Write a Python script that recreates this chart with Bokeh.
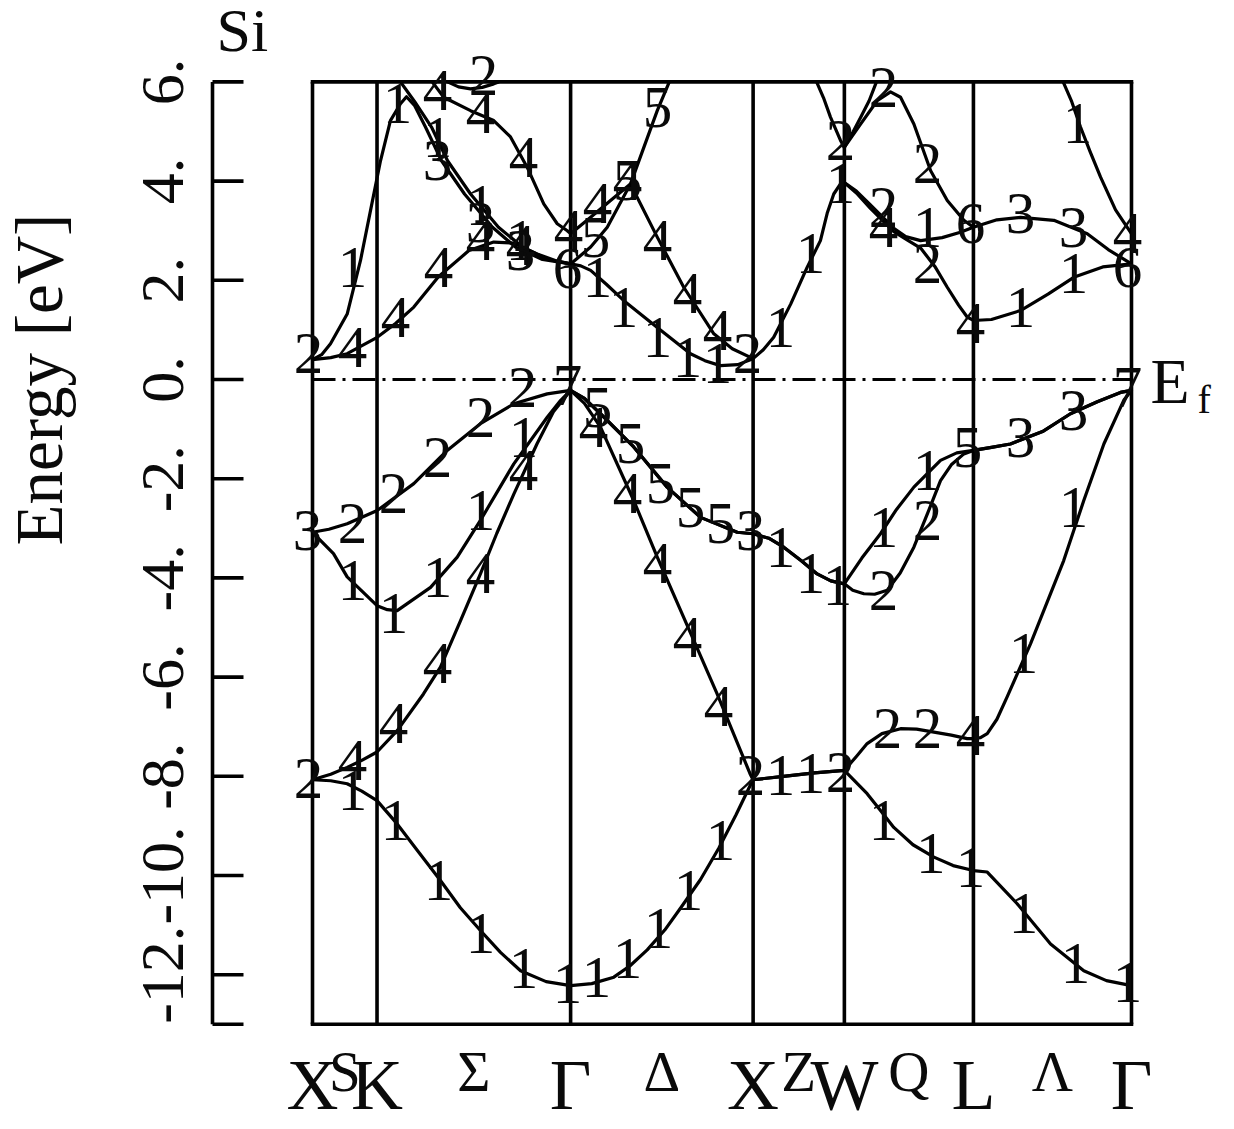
import math
from bokeh.plotting import figure
from bokeh.models import Range1d, ColumnDataSource
from bokeh.core.properties import value
from bokeh.embed import file_html
from bokeh.resources import INLINE

nan = float("nan")

# ---------------- data ----------------
k_points = [0.0, 0.35355, 1.41421, 2.41421, 2.91421, 3.62132, 4.48735]
k_point_labels = ["X", "K", "Γ", "X", "W", "L", "Γ"]
k_line_labels = ["S", "Σ", "Δ", "Z", "Q", "Λ"]
e_bottom, e_top = -13.0, 6.0
e_fermi = 0.0
y_ticks = [6, 4, 2, 0, -2, -4, -6, -8, -10, -12, -13]
y_tick_labels = ["6.", "4.", "2.", "0.", "-2.", "-4.", "-6.", "-8.", "-10.", "-12.", ""]

band1_k = [0.0, 0.10, 0.19, 0.27, 0.3535, 0.464, 0.58, 0.701, 0.81, 0.92, 1.03, 1.14, 1.28, 1.414,
           1.53, 1.651, 1.74, 1.834, 1.93, 2.016, 2.126, 2.226, 2.32, 2.40, 2.414,
           2.58, 2.75, 2.914, 3.039, 3.11, 3.185, 3.29, 3.405, 3.51, 3.621,
           3.697, 3.861, 4.044, 4.226, 4.35, 4.487]
band1_e = [-8.07, -8.09, -8.15, -8.30, -8.49, -8.96, -9.52, -10.10, -10.65, -11.11, -11.55, -11.92, -12.14, -12.22,
           -12.18, -12.05, -11.82, -11.50, -11.10, -10.66, -10.08, -9.45, -8.78, -8.17, -8.07,
           -8.00, -7.93, -7.88, -8.35, -8.68, -9.03, -9.38, -9.63, -9.80, -9.90,
           -9.93, -10.57, -11.38, -11.92, -12.12, -12.22]

band2_k = [0.0, 0.10, 0.19, 0.27, 0.3535, 0.464, 0.608, 0.701, 0.81, 0.92, 1.01, 1.103, 1.231, 1.32, 1.414,
           1.49, 1.578, 1.760, 1.889, 2.089, 2.217, 2.40, 2.414,
           2.58, 2.75, 2.914, 2.98, 3.039, 3.12, 3.222, 3.31, 3.405, 3.50, 3.587, 3.621,
           3.66, 3.697, 3.75, 3.806, 3.934, 4.116, 4.226, 4.336, 4.445, 4.487]
band2_e = [-8.07, -7.96, -7.82, -7.68, -7.51, -7.08, -6.34, -5.80, -4.87, -3.92, -3.10, -2.31, -1.29, -0.65, -0.22,
           -0.48, -0.96, -2.44, -3.58, -5.26, -6.34, -7.97, -8.07,
           -8.00, -7.93, -7.88, -7.60, -7.34, -7.14, -7.04, -7.05, -7.11, -7.17, -7.24, -7.24,
           -7.22, -7.14, -6.85, -6.40, -5.33, -3.65, -2.44, -1.30, -0.42, -0.22]

band3_k = [0.0, 0.115, 0.19, 0.3535, 0.41, 0.464, 0.647, 0.793, 0.92, 1.103, 1.286, 1.36, 1.414,
           1.49, 1.578, 1.760, 1.943, 2.126, 2.327, 2.414,
           2.50, 2.582, 2.68, 2.765, 2.84, 2.914,
           2.96, 3.021, 3.08, 3.149, 3.22, 3.295, 3.37, 3.441, 3.50, 3.569, 3.621,
           3.72, 3.824, 4.00, 4.153, 4.30, 4.427, 4.487]
band3_e = [-3.08, -3.51, -3.98, -4.56, -4.64, -4.66, -4.19, -3.58, -2.84, -1.70, -0.76, -0.42, -0.22,
           -0.38, -0.69, -1.36, -2.17, -2.78, -3.08, -3.11,
           -3.20, -3.38, -3.66, -3.92, -4.06, -4.12,
           -4.25, -4.32, -4.33, -4.25, -3.90, -3.38, -2.70, -2.04, -1.72, -1.50, -1.43,
           -1.37, -1.30, -1.05, -0.69, -0.45, -0.26, -0.22]

band4_k = [0.0, 0.09, 0.19, 0.3545, 0.555, 0.738, 0.92, 1.103, 1.286, 1.414,
           1.49, 1.578, 1.760, 1.943, 2.126, 2.327, 2.414,
           2.50, 2.582, 2.68, 2.765, 2.84, 2.914,
           3.01, 3.112, 3.20, 3.295, 3.441, 3.53, 3.621,
           3.72, 3.824, 4.00, 4.153, 4.30, 4.427, 4.487]
band4_e = [-3.08, -3.02, -2.91, -2.64, -2.10, -1.43, -0.89, -0.49, -0.29, -0.22,
           -0.38, -0.69, -1.36, -2.17, -2.78, -3.08, -3.11,
           -3.20, -3.38, -3.66, -3.92, -4.06, -4.12,
           -3.60, -3.11, -2.62, -2.17, -1.63, -1.48, -1.43,
           -1.37, -1.30, -1.05, -0.69, -0.45, -0.26, -0.22]

band5_k = [0.0, 0.10, 0.19, 0.3545, 0.455, 0.555, 0.69, 0.857, 0.993, 1.103, 1.231, 1.33, 1.414,
           1.47, 1.524, 1.61, 1.706, 1.889, 2.071, 2.15, 2.235, 2.33, 2.414,
           2.47, 2.527, 2.62, 2.710, 2.783, 2.82, 2.856, 2.89, 2.914,
           2.98, 3.057, 3.185, 3.26, 3.332, 3.41, 3.478, 3.54, 3.587, 3.621,
           3.72, 3.879, 4.03, 4.171, 4.33, 4.487]
band5_e = [0.40, 0.44, 0.52, 0.85, 1.13, 1.46, 2.07, 2.60, 2.77, 2.75, 2.53, 2.40, 2.33,
           2.29, 2.20, 1.92, 1.59, 1.05, 0.52, 0.38, 0.28, 0.30, 0.42,
           0.60, 0.85, 1.52, 2.26, 2.80, 3.35, 3.74, 3.93, 3.97,
           3.76, 3.45, 2.98, 2.81, 2.65, 2.28, 1.86, 1.50, 1.26, 1.19,
           1.21, 1.39, 1.72, 2.06, 2.27, 2.33]

band6_k = [0.0, 0.05, 0.0986, 0.19, 0.263, 0.318, 0.3726, 0.427, 0.482, 0.515, 0.56, 0.619, 0.707, 0.833,
           0.986, 1.112, 1.26, 1.414,
           1.524, 1.615, 1.742, 1.889, 1.955, nan,
           2.914, 2.98, 3.057, 3.185, 3.25, 3.332, 3.45, 3.55, 3.621,
           3.75, 3.879, 4.062, 4.245, 4.36, 4.487]
band6_e = [0.40, 0.50, 0.72, 1.32, 2.40, 3.41, 4.41, 5.22, 5.56, 5.70, 5.52, 5.09, 4.41, 3.74,
           3.07, 2.67, 2.42, 2.33,
           2.67, 3.07, 3.94, 5.42, 6.00, nan,
           3.97, 3.80, 3.52, 3.05, 2.88, 2.80, 2.86, 2.97, 3.07,
           3.22, 3.27, 3.21, 2.94, 2.62, 2.33]

band7_k = [0.482, 0.56, 0.652, 0.740, 0.866, 1.019, 1.151, 1.29, 1.414, nan,
           2.762, 2.80, 2.838, 2.893, 2.914,
           3.003, 3.094, 3.167, 3.222, 3.295, 3.387, 3.478, 3.569, 3.621]
band7_e = [6.00, 5.60, 5.09, 4.41, 3.74, 3.07, 2.67, 2.42, 2.33, nan,
           6.00, 5.68, 5.29, 4.82, 4.68,
           5.15, 5.62, 5.80, 5.69, 5.15, 4.21, 3.61, 3.21, 3.07]

band8_k = [0.656, 0.719, 0.866, 0.993, 1.085, 1.176, 1.267, 1.341, 1.396, 1.414,
           1.524, 1.633, 1.742, 1.889, 2.034, 2.199, 2.30, 2.414, nan,
           2.914, 2.96, 3.003, 3.05, 3.09, nan,
           4.113, 4.16, 4.208, 4.26, 4.318, 4.40, 4.487]
band8_e = [6.00, 5.69, 5.42, 5.22, 4.89, 4.28, 3.54, 3.14, 3.00, 2.94,
           3.27, 3.61, 3.94, 2.87, 1.86, 0.92, 0.62, 0.42, nan,
           4.68, 4.98, 5.28, 5.62, 6.00, nan,
           6.00, 5.60, 5.09, 4.60, 4.08, 3.42, 2.94]

band9_k = [0.74, 0.80, 0.866, 0.93, 0.993, 1.02]
band9_e = [6.00, 5.90, 5.86, 5.89, 5.96, 6.00]

bands = [(band1_k, band1_e), (band2_k, band2_e), (band3_k, band3_e), (band4_k, band4_e),
         (band5_k, band5_e), (band6_k, band6_e), (band7_k, band7_e), (band8_k, band8_e),
         (band9_k, band9_e)]

# symmetry labels on the bands
sym_k = [0.455, 0.690, 0.920, 1.156, 1.397, 1.556, 1.726, 1.896, 2.060, 2.235,
         -0.022, 0.219, 0.219, 0.444, 0.685, 0.920, 1.156, 1.540, 1.726, 1.890, 2.055, 2.225,
         2.400, 2.564, 2.728, 2.893, 3.128, 3.387, 3.605, 3.150, 3.370, 3.605,
         3.896, 4.181, 4.466, 3.896, 4.170,
         -0.027, 0.219, 0.444, 0.685, 0.920, 1.151, 1.397,
         0.219, 0.444, 0.685, 0.920, 1.156,
         1.562, 1.742, 1.907, 2.071, 2.235, 2.400, 2.564, 2.728, 2.876,
         3.128, 3.128, 3.370, 3.370, 3.589, 3.879, 4.170, 4.466,
         -0.022, 0.219, 0.455, 0.690, 0.920, 1.140, 1.397,
         0.219, 0.466, 0.685, 0.685, 0.920, 0.920, 1.140, 1.140,
         0.685, 0.937, 0.920, 1.156, 1.403,
         1.562, 1.551, 1.562, 1.726, 1.726, 1.890, 1.890, 2.055, 2.219,
         1.704, 1.890, 2.055, 2.219, 2.383,
         2.564, 2.728, 2.893, 2.893,
         3.128, 3.128, 3.128, 3.370, 3.370, 3.370, 3.605, 3.605,
         3.879, 3.879, 4.170, 4.170, 4.192, 4.466, 4.466]
sym_e = [-8.891, -10.101, -11.169, -11.875, -12.177, -12.056, -11.673, -11.069, -10.302, -9.294,
         -8.044, -7.681, -8.286, -6.935, -5.726, -3.911, -1.835, -0.968, -2.298, -3.710, -5.202, -6.593,
         -7.984, -7.984, -7.944, -7.923, -8.891, -9.556, -9.839, -7.036, -7.036, -7.177,
         -10.766, -11.774, -12.157, -5.524, -2.581,
         -3.044, -2.903, -2.298, -1.573, -0.766, -0.161, -0.120,
         -4.052, -4.718, -3.992, -2.641, -1.169,
         -0.565, -1.290, -2.097, -2.581, -2.903, -3.044, -3.387, -3.911, -4.153,
         -4.254, -2.984, -2.843, -1.835, -1.371, -1.169, -0.625, -0.161,
         0.524, 0.645, 1.250, 2.258, 2.802, 2.702, 2.238,
         2.258, 5.565, 4.879, 4.415, 3.508, 3.165, 2.802, 2.601,
         5.827, 6.129, 5.363, 4.476, 3.004,
         2.056, 2.863, 3.548, 4.012, 4.012, 5.484, 2.802, 1.734, 0.988,
         1.452, 0.847, 0.444, 0.323, 0.524,
         1.048, 2.540, 3.952, 4.819,
         5.887, 3.468, 3.065, 4.355, 3.065, 2.339, 3.145, 1.129,
         3.347, 1.452, 3.065, 2.137, 5.161, 2.944, 2.258]
sym_t = ["1", "1", "1", "1", "1", "1", "1", "1", "1", "1",
         "2", "4", "1", "4", "4", "4", "4", "4", "4", "4", "4", "4",
         "2", "1", "1", "2", "1", "1", "1", "2", "2", "4",
         "1", "1", "1", "1", "1",
         "3", "2", "2", "2", "2", "2", "7",
         "1", "1", "1", "1", "1",
         "5", "5", "5", "5", "5", "3", "1", "1", "1",
         "2", "1", "2", "1", "5", "3", "3", "7",
         "2", "4", "4", "4", "4", "4", "6",
         "1", "1", "1", "3", "1", "3", "1", "3",
         "4", "2", "4", "4", "4",
         "1", "5", "4", "5", "4", "5", "4", "4", "4",
         "1", "1", "1", "1", "2",
         "1", "1", "1", "2",
         "2", "2", "4", "2", "1", "2", "6", "4",
         "3", "1", "3", "1", "1", "4", "6"]

# ---------------- layout ----------------
W, H = 1218, 1113
PX_K = 182.51
PX_E = 49.6
FRAME_LEFT_PX = 312
ZERO_PX = 379
BASE_SHIFT = 0.37          # renderer places the baseline this many em below the anchor
FONT = value("Liberation Serif")
INK = "#000000"
TEXT_INK = "#0a0a0a"


def kx(px):
    return (px - FRAME_LEFT_PX) / PX_K


def ey(py):
    return (ZERO_PX - py) / PX_E


def base(px, size):
    return px - BASE_SHIFT * size


p = figure(width=W, height=H, x_range=Range1d(kx(0), kx(W)),
           y_range=Range1d(ey(H), ey(0)),
           output_backend="svg", toolbar_location=None,
           x_axis_location=None, y_axis_location=None, min_border=0)
p.outline_line_color = None
p.background_fill_color = "white"
p.border_fill_color = "white"
p.grid.visible = False

# frame and k-point lines
n = len(k_points)
p.segment(x0=k_points, y0=[e_bottom] * n, x1=k_points, y1=[e_top] * n,
          line_color=INK, line_width=3.6)
p.segment(x0=[k_points[0]] * 2, y0=[e_bottom, e_top], x1=[k_points[-1]] * 2, y1=[e_bottom, e_top],
          line_color=INK, line_width=3.6, line_cap="square")

# Fermi level
p.line([k_points[0], k_points[-1]], [e_fermi, e_fermi], line_color=INK, line_width=3.0,
       line_dash="23 7 3 7")

# bands
for bk, be in bands:
    p.line(bk, be, line_color=INK, line_width=3.2, line_join="round", line_cap="round")

# symmetry labels (glyph centred on the point)
src = ColumnDataSource(dict(k=sym_k, e=sym_e, t=sym_t))
p.text(x="k", y="e", text="t", source=src, text_font=FONT, text_font_size="59px",
       text_align="center", text_baseline="alphabetic", text_color=TEXT_INK)

# separate energy axis
ax_x = kx(212)
p.segment(x0=[ax_x], y0=[e_bottom], x1=[ax_x], y1=[e_top], line_color=INK, line_width=3.6)
nt = len(y_ticks)
p.segment(x0=[ax_x] * nt, y0=y_ticks, x1=[kx(243)] * nt, y1=y_ticks, line_color=INK, line_width=3.6)
p.text(x=[kx(base(185, 62))] * nt, y=y_ticks, text=y_tick_labels, angle=math.pi / 2,
       text_font=FONT, text_font_size="62px", text_align="center",
       text_baseline="alphabetic", text_color=TEXT_INK)
p.text(x=[kx(base(63, 67))], y=[ey(379)], text=["Energy [eV]"], angle=math.pi / 2,
       text_font=FONT, text_font_size="67px", text_align="center",
       text_baseline="alphabetic", text_color=TEXT_INK)

# title, Fermi label
p.text(x=[kx(216)], y=[ey(base(52, 62))], text=["Si"], text_font=FONT, text_font_size="62px",
       text_align="left", text_baseline="alphabetic", text_color=TEXT_INK)
p.text(x=[kx(1150)], y=[ey(base(405, 64))], text=["E"], text_font=FONT, text_font_size="64px",
       text_align="left", text_baseline="alphabetic", text_color=TEXT_INK)
p.text(x=[kx(1197)], y=[ey(base(414, 40))], text=["f"], text_font=FONT, text_font_size="40px",
       text_align="left", text_baseline="alphabetic", text_color=TEXT_INK)

# k-point labels
p.text(x=k_points, y=[ey(base(1111, 72))] * n, text=k_point_labels, text_font=FONT,
       text_font_size="72px", text_align="center", text_baseline="alphabetic",
       text_color=TEXT_INK)
mids = [(k_points[i] + k_points[i + 1]) / 2 for i in range(n - 1)]
p.text(x=mids, y=[ey(base(1092, 57))] * (n - 1), text=k_line_labels, text_font=FONT,
       text_font_size="57px", text_align="center", text_baseline="alphabetic",
       text_color=TEXT_INK)

open("out.html", "w").write(file_html(p, INLINE))
